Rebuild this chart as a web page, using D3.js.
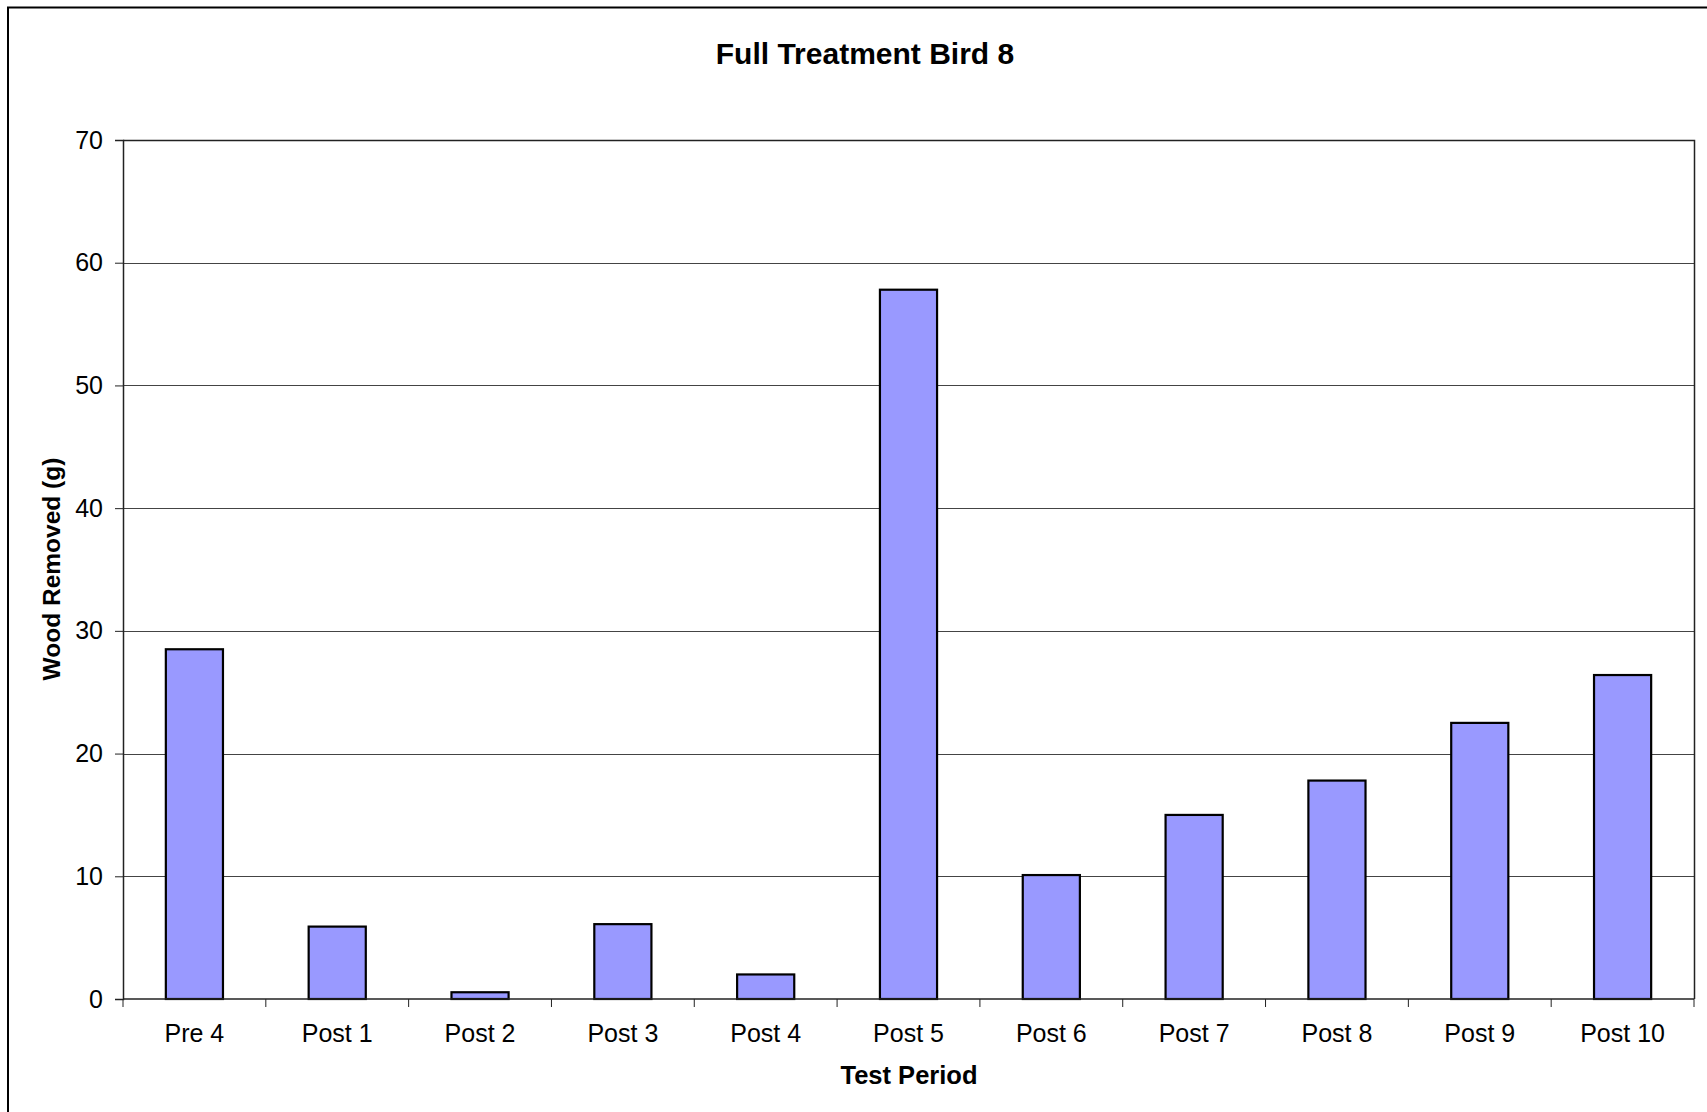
<!DOCTYPE html>
<html>
<head>
<meta charset="utf-8">
<script src="https://cdn.jsdelivr.net/npm/d3@7"></script>
<style>
  html, body { margin: 0; padding: 0; background: #fff; overflow: hidden; }
  svg { display: block; font-family: "Liberation Sans", Arial, sans-serif; }
</style>
</head>
<body>
<svg id="chart" width="1707" height="1112"></svg>
<script>
// Wood removed per test period
const categories = ["Pre 4", "Post 1", "Post 2", "Post 3", "Post 4", "Post 5",
                    "Post 6", "Post 7", "Post 8", "Post 9", "Post 10"];
const woodRemoved = [28.5, 5.9, 0.55, 6.1, 2.0, 57.8, 10.1, 15.0, 17.8, 22.5, 26.4];
const yTicks = [0, 10, 20, 30, 40, 50, 60, 70];

const chartTitle = "Full Treatment Bird 8";
const xTitle = "Test Period";
const yTitle = "Wood Removed (g)";

const svg = d3.select("#chart");
const plot = { left: 123, right: 1694, top: 140, bottom: 999 };

// Outer chart frame
svg.append("rect")
  .attr("x", 8).attr("y", 7.5)
  .attr("width", 1760).attr("height", 1160)
  .attr("fill", "#fff").attr("stroke", "#000").attr("stroke-width", 2);

const x = d3.scaleBand()
  .domain(categories)
  .range([plot.left, plot.right])
  .paddingInner(0.6)
  .paddingOuter(0.3);

const y = d3.scaleLinear()
  .domain([0, 70])
  .range([plot.bottom, plot.top]);

// Horizontal gridlines
svg.append("g")
  .selectAll("line")
  .data(yTicks.filter(d => d > 0 && d < 70))
  .join("line")
  .attr("x1", plot.left).attr("x2", plot.right)
  .attr("y1", d => Math.round(y(d)) + 0.5).attr("y2", d => Math.round(y(d)) + 0.5)
  .attr("stroke", "#444").attr("stroke-width", 1);

// Plot area border (top and right)
svg.append("path")
  .attr("d", `M${plot.left},${plot.top + 0.5}H${plot.right + 0.5}V${plot.bottom}`)
  .attr("fill", "none").attr("stroke", "#222").attr("stroke-width", 1.5);

// Bars
svg.append("g")
  .selectAll("rect")
  .data(categories.map((c, i) => ({ c, v: woodRemoved[i] })))
  .join("rect")
  .attr("x", d => x(d.c))
  .attr("y", d => y(d.v))
  .attr("width", x.bandwidth())
  .attr("height", d => y(0) - y(d.v))
  .attr("fill", "#9999FF")
  .attr("stroke", "#000")
  .attr("stroke-width", 2.2);

// Y axis
const yAxis = svg.append("g")
  .attr("transform", `translate(${plot.left},0)`)
  .call(d3.axisLeft(y).tickValues(yTicks).tickSize(8).tickPadding(12).tickFormat(d3.format("d")));
yAxis.select(".domain").attr("stroke", "#222").attr("stroke-width", 1.5);
yAxis.selectAll(".tick line").attr("stroke", "#222");
yAxis.selectAll("text").attr("font-size", 25).attr("fill", "#000")
  .attr("font-family", "Liberation Sans, Arial, sans-serif");

// X axis: ticks fall on category boundaries
const xAxis = svg.append("g")
  .attr("transform", `translate(0,${plot.bottom})`);
xAxis.append("line")
  .attr("x1", plot.left).attr("x2", plot.right)
  .attr("stroke", "#222").attr("stroke-width", 1.5);
const step = x.step();
const bounds = d3.range(categories.length + 1).map(i => plot.left + i * step);
xAxis.selectAll("line.tk")
  .data(bounds)
  .join("line")
  .attr("class", "tk")
  .attr("x1", d => d).attr("x2", d => d)
  .attr("y1", 0).attr("y2", 8)
  .attr("stroke", "#222").attr("stroke-width", 1);
xAxis.selectAll("text")
  .data(categories)
  .join("text")
  .attr("x", d => x(d) + x.bandwidth() / 2)
  .attr("y", 43)
  .attr("text-anchor", "middle")
  .attr("font-size", 25)
  .attr("fill", "#000")
  .text(d => d);

// Titles
svg.append("text")
  .attr("x", 865).attr("y", 64)
  .attr("text-anchor", "middle")
  .attr("font-size", 30).attr("font-weight", "bold")
  .text(chartTitle);

svg.append("text")
  .attr("x", 909).attr("y", 1084)
  .attr("text-anchor", "middle")
  .attr("font-size", 25.5).attr("font-weight", "bold")
  .text(xTitle);

svg.append("text")
  .attr("transform", "translate(60,569) rotate(-90)")
  .attr("text-anchor", "middle")
  .attr("font-size", 24.5).attr("font-weight", "bold")
  .text(yTitle);
</script>
</body>
</html>
